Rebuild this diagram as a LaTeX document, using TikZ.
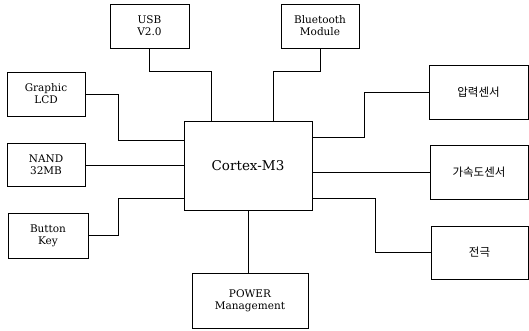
\documentclass[tikz,border=0pt]{standalone}
\usepackage{fontspec}
\setmainfont{DejaVu Serif}
\newfontfamily\kr{Noto Sans CJK KR}
\begin{document}
\begin{tikzpicture}[x=1pt,y=-1pt,
  blk/.style={draw=black,line width=0.8pt,rectangle,inner sep=0pt,align=center,font=\fontsize{10.5}{12}\selectfont},
  krblk/.style={blk,font=\kr\fontsize{11.5}{13}\selectfont},
  wire/.style={draw=black,line width=0.8pt}]
\useasboundingbox (0,0) rectangle (529,330);
\node[blk,minimum width=79pt,minimum height=44pt] (usb) at (149.5,26) {USB\\V2.0};
\node[blk,minimum width=78pt,minimum height=44pt] (bt) at (320,26) {Bluetooth\\Module};
\node[blk,minimum width=78pt,minimum height=44pt] (lcd) at (46,94) {Graphic\\LCD};
\node[blk,minimum width=78pt,minimum height=43pt] (nand) at (46,165) {NAND\\32MB};
\node[blk,minimum width=80pt,minimum height=45pt] (key) at (48,235.5) {Button\\Key};
\node[blk,minimum width=128pt,minimum height=89pt,font=\fontsize{13.5}{15}\selectfont] (cpu) at (248,165.5) {Cortex-M3};
\node[blk,minimum width=116pt,minimum height=55pt] (pwr) at (250,300.5) {POWER\\Management};
\node[krblk,minimum width=99pt,minimum height=54pt] (press) at (478.5,92) {압력센서};
\node[krblk,minimum width=98pt,minimum height=54pt] (acc) at (479,172) {가속도센서};
\node[krblk,minimum width=97pt,minimum height=53pt] (elec) at (479.5,252.5) {전극};
\coordinate (b1) at (211,71);
\coordinate (b2) at (273,71);
\coordinate (b3) at (118,140);
\coordinate (b4) at (118,198);
\coordinate (b5) at (364,137);
\coordinate (b6) at (375,198);
\draw[wire] (usb.south) |- (b1) -- (b1 |- cpu.north);
\draw[wire] (bt.south) |- (b2) -- (b2 |- cpu.north);
\draw[wire] (lcd.east) -| (b3) -- (b3 -| cpu.west);
\draw[wire] (nand.east) -- (nand.east -| cpu.west);
\draw[wire] (key.east) -| (b4) -- (b4 -| cpu.west);
\draw[wire] (cpu.south) -- (cpu.south |- pwr.north);
\draw[wire] (b5 -| cpu.east) -- (b5) |- (press.west);
\draw[wire] (acc.west -| cpu.east) -- (acc.west);
\draw[wire] (b6 -| cpu.east) -- (b6) |- (elec.west);
\end{tikzpicture}
\end{document}
